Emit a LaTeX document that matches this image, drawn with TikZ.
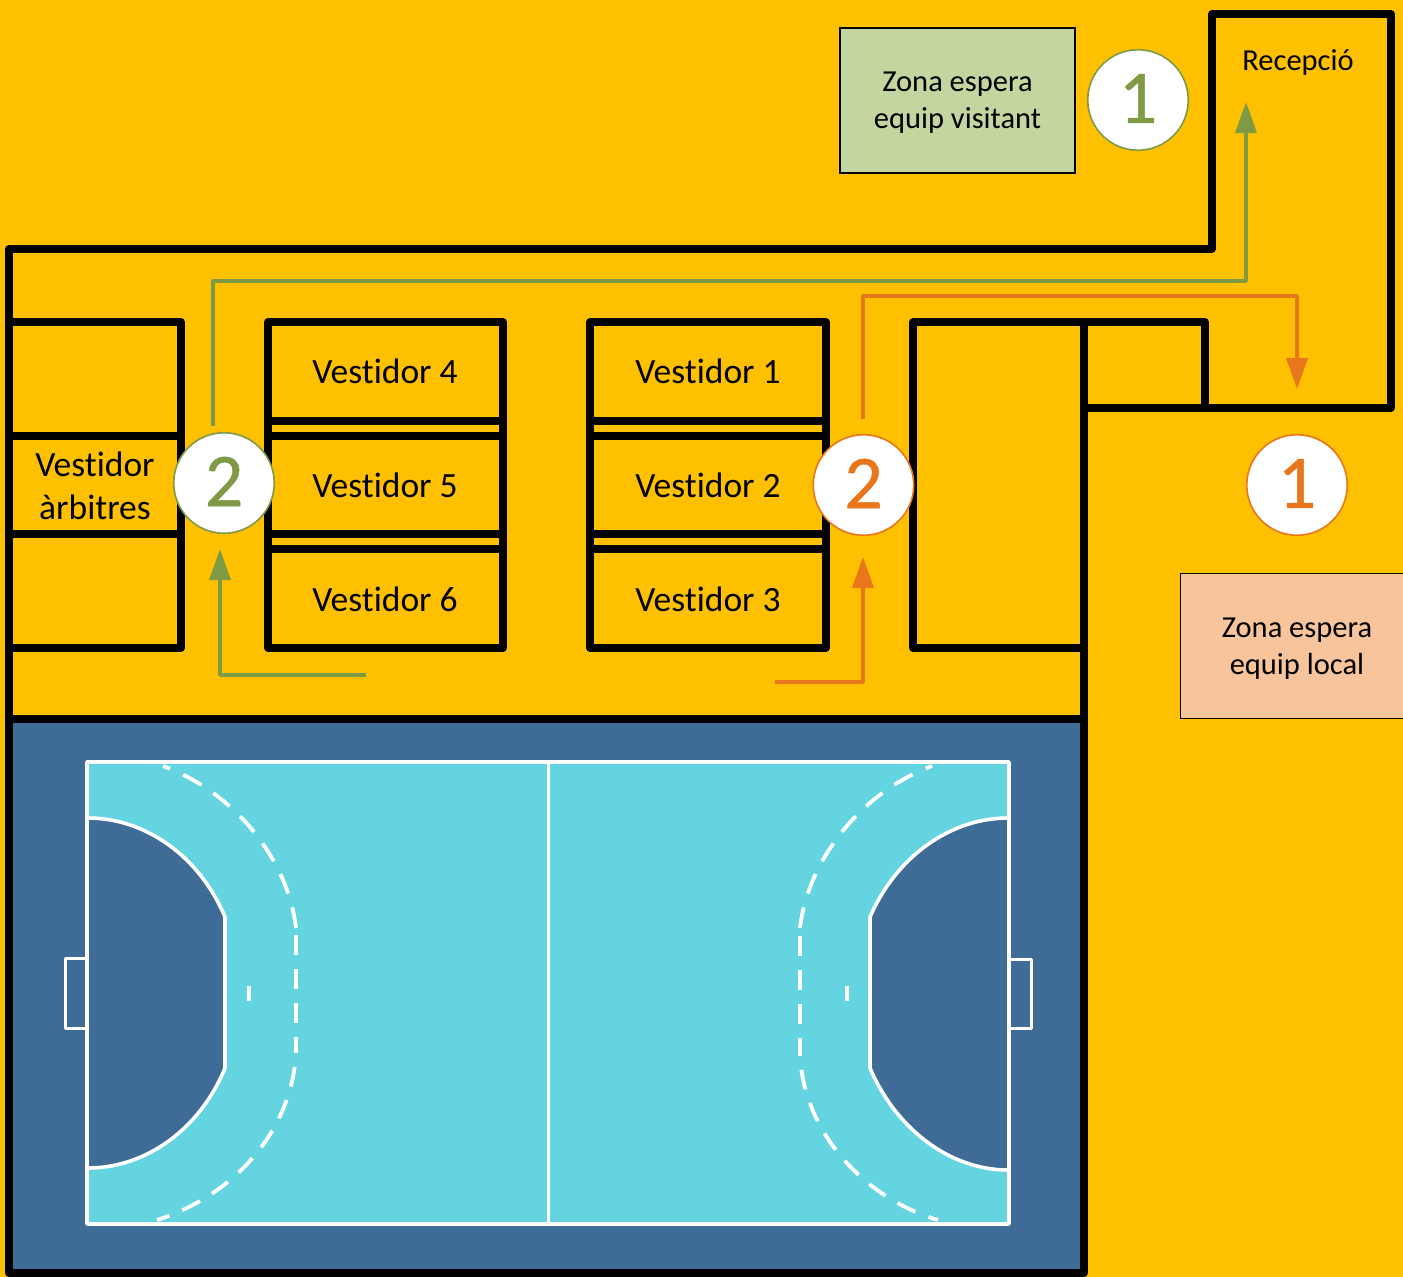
\documentclass[tikz,border=0pt]{standalone}
\usepackage{fontspec}
\setmainfont{Carlito}[Ligatures=NoCommon]
\newfontfamily\digitfont{Carlito}[FakeBold=0.6]
\usetikzlibrary{arrows.meta}
\definecolor{amber}{HTML}{FFC000}
\definecolor{greenl}{HTML}{7F9A45}
\definecolor{orangel}{HTML}{E9761A}
\definecolor{greenz}{HTML}{C4D6A0}
\definecolor{orangez}{HTML}{F8C49C}
\definecolor{courtblue}{HTML}{3E6C96}
\definecolor{courtcyan}{HTML}{64D5E0}
\newcommand{\digitup}[1]{\raisebox{3pt}{#1}}
\tikzset{
  x=1pt,y=-1pt,
  wall/.style={draw=black,line width=7.4pt,line join=round,line cap=round},
  room/.style={font=\fontsize{35.5}{43}\selectfont,align=center,text=black,inner sep=0pt},
  small/.style={font=\fontsize{30.5}{37}\selectfont,align=center,text=black,inner sep=0pt},
  zone/.style={draw=black,line width=1.3pt},
  badge/.style={circle,fill=white,line width=1.6pt,minimum size=100.5pt,inner sep=0pt,font=\digitfont\fontsize{76}{76}\selectfont},
  route/.style={line width=3.4pt,line join=round,-{Triangle[width=21pt,length=31pt]}},
  cline/.style={draw=white,line width=3.6pt,line join=round},
  cdash/.style={draw=white,line width=3.8pt,dash pattern=on 21pt off 14.4pt},
  cdashs/.style={draw=white,line width=3.8pt,dash pattern=on 20pt off 14pt},
}
\begin{document}
\begin{tikzpicture}
\useasboundingbox (0,0) rectangle (1403,1277);
\fill[amber] (0,0) rectangle (1403,1277);
% court
\fill[courtblue] (9,719) rectangle (1084,1273);
\fill[courtcyan] (87,762) rectangle (1009,1224);
\path[fill=courtblue] (88,818) .. controls (146,818) and (200,857) .. (225,917) -- (225,1068) .. controls (200,1129) and (146,1168) .. (88,1168) -- cycle;
\path[fill=courtblue] (1008,818) .. controls (950,818) and (896,857) .. (870,917) -- (870,1068) .. controls (896,1129) and (950,1170) .. (1008,1170) -- cycle;
\draw[cline] (87,762) rectangle (1009,1224);
\draw[cline,line width=3pt] (548,762) -- (548,1224);
\draw[cline] (88,818) .. controls (146,818) and (200,857) .. (225,917) -- (225,1068) .. controls (200,1129) and (146,1168) .. (88,1168);
\draw[cline] (1008,818) .. controls (950,818) and (896,857) .. (870,917) -- (870,1068) .. controls (896,1129) and (950,1170) .. (1008,1170);
\draw[cdash] (296,928) .. controls (288,859) and (234,792) .. (163,766);
\draw[cdashs] (296,935) -- (296,1053);
\draw[cdashs,dash phase=20pt] (296,1053) .. controls (292,1130) and (235,1195) .. (157,1220);
\draw[cdash] (800,928) .. controls (808,859) and (862,792) .. (932,766);
\draw[cdashs] (800,936) -- (800,1056);
\draw[cdashs,dash phase=20pt] (800,1056) .. controls (804,1130) and (861,1197) .. (938,1220);
\draw[cline] (249,986) -- (249,1001);
\draw[cline] (847,986) -- (847,1001);
\draw[cline,line width=3pt] (87,958) -- (65,958) -- (65,1028) -- (87,1028);
\draw[cline,line width=3pt] (1009,959) -- (1031,959) -- (1031,1028) -- (1009,1028);
% walls
\draw[wall] (9,719) -- (9,249) -- (1212,249) -- (1212,14) -- (1391,14) -- (1391,408) -- (1084,408) -- (1084,1273) -- (9,1273) -- cycle;
\draw[wall] (9,719) -- (1084,719);
\draw[wall] (9,322) -- (181,322) -- (181,648) -- (9,648);
\draw[wall] (9,436) -- (181,436);
\draw[wall] (9,534) -- (181,534);
\draw[wall] (268,322) rectangle (503,648);
\draw[wall] (268,421) -- (503,421);
\draw[wall] (268,436) -- (503,436);
\draw[wall] (268,534) -- (503,534);
\draw[wall] (268,549) -- (503,549);
\draw[wall] (590,322) rectangle (826,648);
\draw[wall] (590,421) -- (826,421);
\draw[wall] (590,436) -- (826,436);
\draw[wall] (590,534) -- (826,534);
\draw[wall] (590,549) -- (826,549);
\draw[wall] (913,322) rectangle (1084,648);
\draw[wall] (1084,322) -- (1205,322) -- (1205,408);
% rooms
\node[room] (v4) at (385,371) {Vestidor 4};
\node[room] (v5) at (385,485) {Vestidor 5};
\node[room] (v6) at (385,599) {Vestidor 6};
\node[room] (v1) at (708,371) {Vestidor 1};
\node[room] (v2) at (708,485) {Vestidor 2};
\node[room] (v3) at (708,599) {Vestidor 3};
\node[room] (va) at (95,486) {Vestidor\\àrbitres};
\node[small] (rec) at (1298,62) {Recepció};
\node[zone,fill=greenz,minimum width=235pt,minimum height=145pt] (zv) at (957.5,100.5) {};
\node[small] (zvt) at (957.5,103) {Zona espera\\equip visitant};
\node[zone,fill=orangez,minimum width=240pt,minimum height=145pt,anchor=west] (zl) at (1179.5,646) {};
\node[small] (zlt) at (1297,649) {Zona espera\\equip local};
% badges
\node[badge,draw=greenl,text=greenl] (g1) at (1138,100) {\digitup{1}};
\node[badge,draw=greenl,text=greenl] (g2) at (224,483) {\digitup{2}};
\node[badge,draw=orangel,text=orangel] (o1) at (1297,485) {\digitup{1}};
\node[badge,draw=orangel,text=orangel] (o2) at (863.5,485) {\digitup{2}};
% routes
\coordinate (gs) at (366,675);
\coordinate (ge) at (220,549);
\coordinate (os) at (775,682);
\coordinate (oe) at (863,557);
\coordinate (g2s) at (213,426);
\coordinate (rece) at (1246,102);
\coordinate (o2s) at (863,419);
\coordinate (ole) at (1297,389);
\draw[route,draw=greenl] (gs) -| (ge);
\draw[route,draw=orangel] (os) -| (oe);
\draw[route,draw=greenl] (g2s) -- (213,281) -- (1246,281) -- (rece);
\draw[route,draw=orangel] (o2s) -- (863,296) -- (1297,296) -- (ole);
\end{tikzpicture}
\end{document}
